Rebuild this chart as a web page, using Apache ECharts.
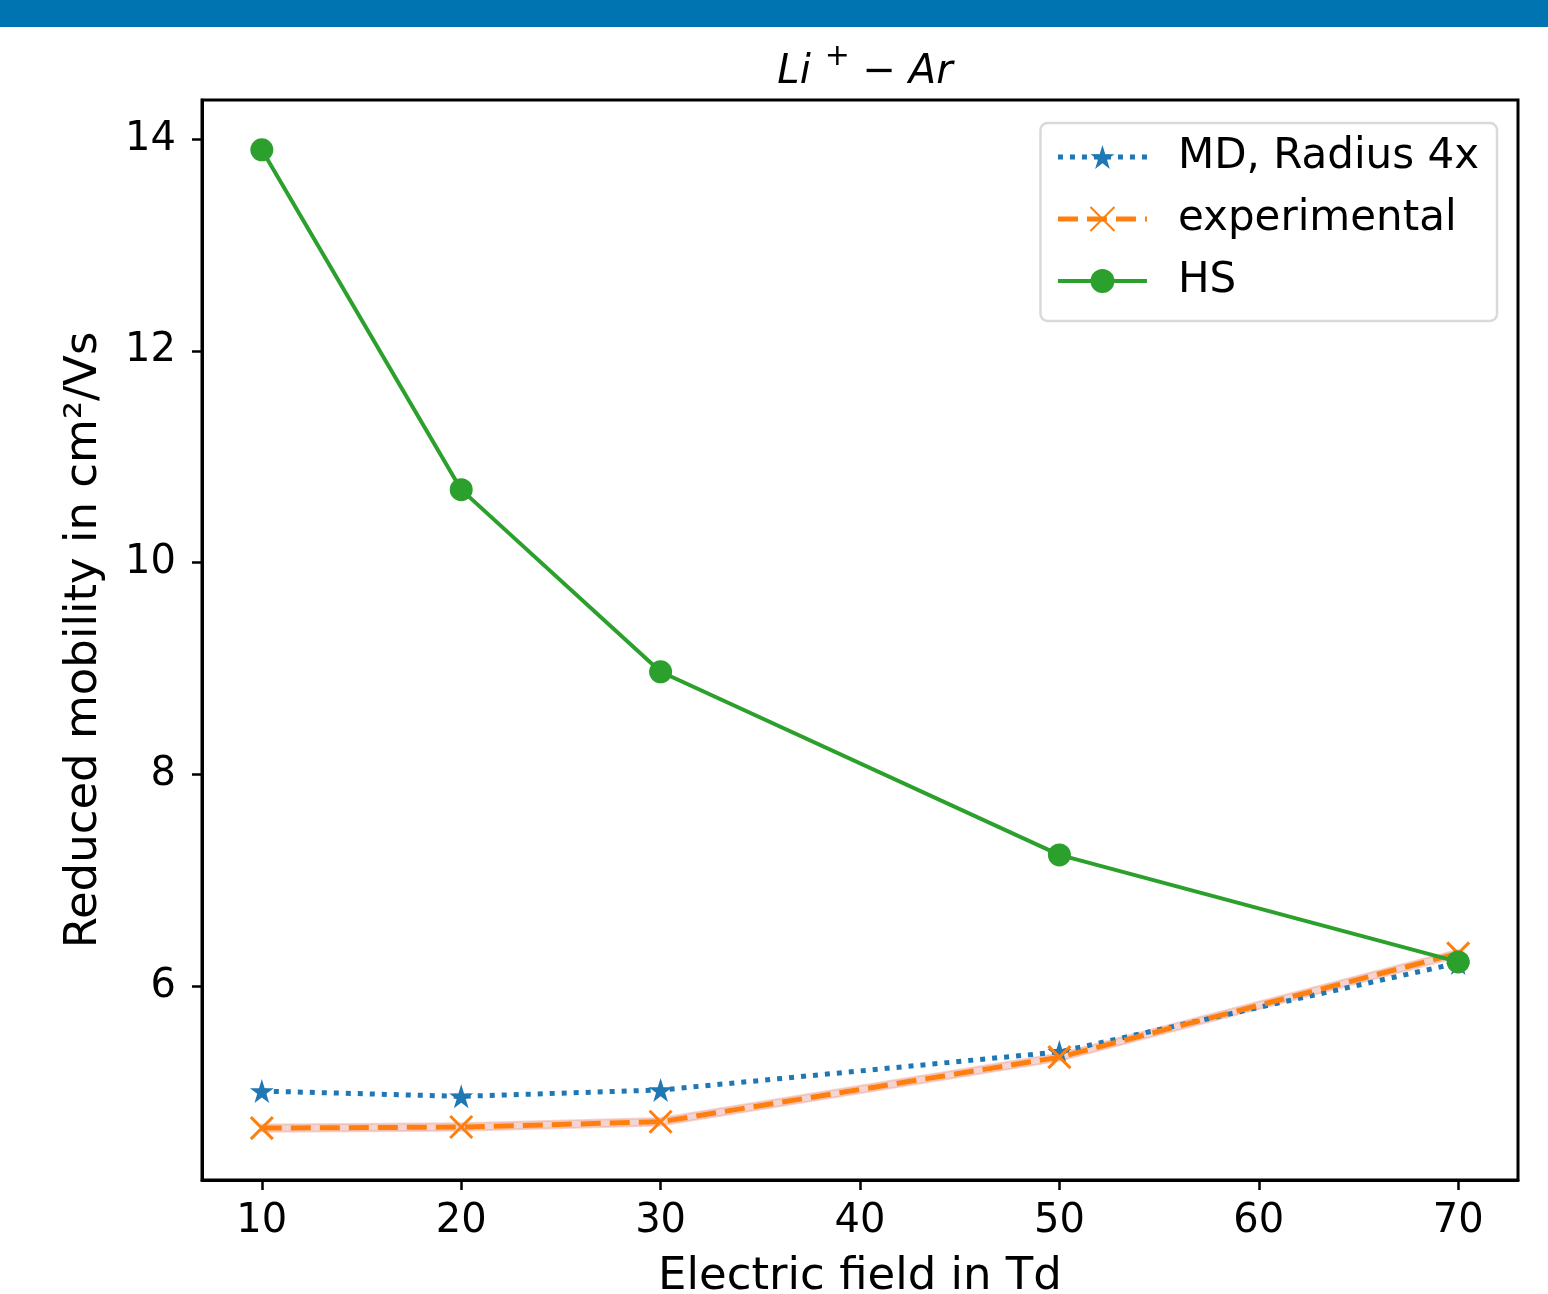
<!DOCTYPE html>
<html><head><meta charset="utf-8">
<script src="https://cdn.jsdelivr.net/npm/echarts@6/dist/echarts.min.js"></script>
<style>html,body{margin:0;padding:0;background:#fff;}#c{width:1548px;height:1294px;}</style>
</head><body><div id="c"></div>
<script>
const fieldTd = [10, 20, 30, 50, 70];
const mdRadius4x = [5.01, 4.96, 5.02, 5.38, 6.22];
const experimental = [4.66, 4.67, 4.72, 5.33, 6.31];
const experimentalErr = [0.035, 0.035, 0.035, 0.035, 0.035];
const hardSphere = [13.90, 10.69, 8.97, 7.24, 6.23];
const xTicks = [10, 20, 30, 40, 50, 60, 70];
const yTicks = [6, 8, 10, 12, 14];

const FONT = 'DejaVu Sans';
const STAR = 'path://M12,0 L14.8,8.6 L23.9,8.6 L16.5,13.9 L19.3,22.6 L12,17.3 L4.7,22.6 L7.5,13.9 L0.1,8.6 L9.2,8.6 Z';
const XMARK = 'path://M0,0 L24,24 M24,0 L0,24';

const pairs = a => fieldTd.map((x, i) => [x, a[i]]);

const MD_LINE = {type: [5, 7], width: 5, color: '#1f77b4'};
const EXP_LINE = {type: [20, 9], width: 5, color: '#ff7f0e'};
const HS_LINE = {type: 'solid', width: 4, color: '#2ca02c'};

const chart = echarts.init(document.getElementById('c'), null, {renderer: 'canvas'});
chart.setOption({
  animation: false,
  backgroundColor: '#fff',
  graphic: [{type: 'rect', shape: {x: 0, y: 0, width: 1548, height: 27}, style: {fill: '#0074b0'}}],
  title: {
    text: '{n|Li}{s|+}{n| \u2212 Ar}', left: 860, textAlign: 'center', top: 32,
    textStyle: {
      fontFamily: FONT, fontStyle: 'italic', fontWeight: 'normal', fontSize: 40, color: '#000',
      rich: {
        n: {fontFamily: FONT, fontStyle: 'italic', fontSize: 40, color: '#000', padding: [16, 0, 0, 0]},
        s: {fontFamily: FONT, fontStyle: 'normal', fontSize: 30, color: '#000', padding: [0, 0, 16, 14]}
      }
    }
  },
  grid: {left: 202, right: 30, top: 100, bottom: 114, outerBoundsMode: 'none', containLabel: false,
    show: true, borderColor: '#000', borderWidth: 3, backgroundColor: 'transparent'},
  legend: {
    right: 51, top: 123, orient: 'vertical',
    padding: [13, 18, 19, 15],
    itemWidth: 89, itemHeight: 30, itemGap: 20,
    borderColor: '#d9d9d9', borderWidth: 2.5, borderRadius: 7, backgroundColor: 'rgba(255,255,255,0.8)',
    textStyle: {fontFamily: FONT, fontSize: 42, color: '#000', padding: [0, 0, 0, 26]},
    data: [
      {name: 'MD, Radius 4x', lineStyle: MD_LINE},
      {name: 'experimental', lineStyle: EXP_LINE},
      {name: 'HS', lineStyle: HS_LINE}
    ]
  },
  xAxis: {
    type: 'value', min: 7, max: 73, interval: 10,
    name: 'Electric field in Td', nameLocation: 'middle', nameGap: 75,
    nameTextStyle: {fontFamily: FONT, fontSize: 45, color: '#000'},
    axisLine: {show: true, lineStyle: {color: '#000', width: 3}},
    axisTick: {show: true, length: 10, lineStyle: {color: '#000', width: 2.5}, customValues: xTicks},
    axisLabel: {fontFamily: FONT, fontSize: 40, color: '#000', margin: 22,
      customValues: xTicks, formatter: v => String(v)},
    splitLine: {show: false}
  },
  yAxis: {
    type: 'value', min: 4.17, max: 14.37,
    name: 'Reduced mobility in cm\u00B2/Vs', nameLocation: 'middle', nameGap: 95, nameRotate: 90,
    nameTextStyle: {fontFamily: FONT, fontSize: 45, color: '#000'},
    axisLine: {show: true, lineStyle: {color: '#000', width: 3}},
    axisTick: {show: true, length: 10, lineStyle: {color: '#000', width: 2.5}, customValues: yTicks},
    axisLabel: {fontFamily: FONT, fontSize: 40, color: '#000', margin: 26,
      customValues: yTicks, formatter: v => String(v)},
    splitLine: {show: false}
  },
  series: [
    {name: 'errBand', type: 'custom', silent: true, z: 1,
     data: [[fieldTd[0], experimental[0]]],
     renderItem: function (params, api) {
       const up = fieldTd.map((x, i) => api.coord([x, experimental[i] + experimentalErr[i]]));
       const lo = fieldTd.map((x, i) => api.coord([x, experimental[i] - experimentalErr[i]])).reverse();
       return {type: 'polygon', shape: {points: up.concat(lo)},
         style: {fill: 'rgba(232,150,140,0.4)', stroke: 'rgba(232,150,140,0.4)', lineWidth: 2}};
     }},
    {name: 'MD, Radius 4x', type: 'line', data: pairs(mdRadius4x), symbol: STAR, symbolSize: 24,
     color: '#1f77b4', lineStyle: MD_LINE, itemStyle: {color: '#1f77b4'}, z: 3},
    {name: 'experimental', type: 'line', data: pairs(experimental), symbol: XMARK, symbolSize: 22,
     color: '#ff7f0e', lineStyle: EXP_LINE,
     itemStyle: {color: 'none', borderColor: '#ff7f0e', borderWidth: 3}, z: 4},
    {name: 'HS', type: 'line', data: pairs(hardSphere), symbol: 'circle', symbolSize: 23,
     color: '#2ca02c', lineStyle: HS_LINE, itemStyle: {color: '#2ca02c'}, z: 5}
  ]
});
</script></body></html>
